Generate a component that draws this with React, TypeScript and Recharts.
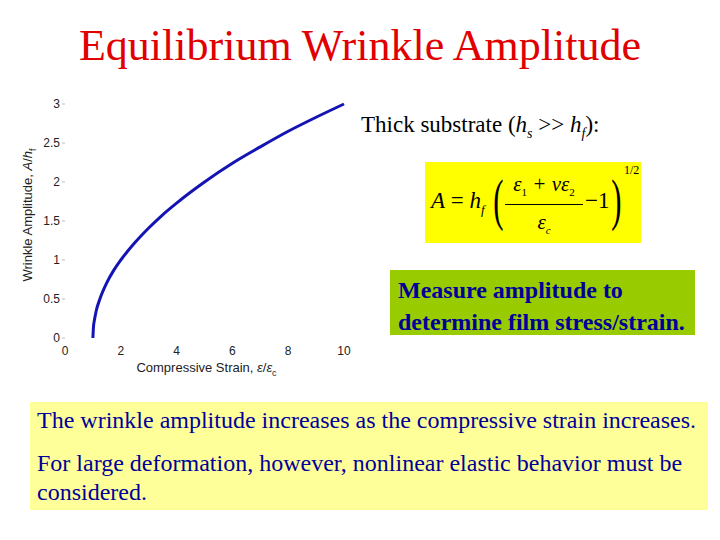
import React from 'react';
import { LineChart, Line, XAxis, YAxis, Label } from 'recharts';

// strain ratio eps/eps_c and amplitude A/h_f
const strainRatio = [1, 1.02, 1.06, 1.12, 1.25, 1.5, 1.75, 2, 2.5, 3, 3.5, 4, 5, 6, 7, 8, 9, 10];
const amplitude = [0, 0.14, 0.24, 0.35, 0.5, 0.71, 0.87, 1, 1.22, 1.41, 1.58, 1.73, 2, 2.24, 2.45, 2.65, 2.83, 3];
const xTicks = [0, 2, 4, 6, 8, 10];
const yTicks = [0, 0.5, 1, 1.5, 2, 2.5, 3];

const data = strainRatio.map((x, i) => ({ x, a: amplitude[i] }));

const serif = '"Liberation Serif", "Times New Roman", serif';
const sans = '"Liberation Sans", Arial, sans-serif';
const NAVY = '#000099';

const XLabel = (props: any) => {
    const { viewBox } = props;
    const cx = viewBox.x + viewBox.width / 2 + 2;
    return (
        <text x={cx} y={viewBox.y + 34} textAnchor="middle" fontFamily={sans} fontSize={13} fill="#222">
            Compressive Strain, <tspan fontStyle="italic">ε</tspan>/<tspan fontStyle="italic">ε</tspan>
            <tspan fontSize={9} dy={4}>c</tspan>
        </text>
    );
};

const YLabel = () => (
    <text
        x={0}
        y={0}
        transform="translate(32, 125) rotate(-90)"
        textAnchor="middle"
        fontFamily={sans}
        fontSize={13}
        fill="#222"
    >
        Wrinkle Amplitude, <tspan fontStyle="italic">A</tspan>/<tspan fontStyle="italic">h</tspan>
        <tspan fontSize={9} dy={4}>f</tspan>
    </text>
);

const App: React.FC = () => {
    return (
        <div style={{ position: 'absolute', left: 0, top: 0, width: 720, height: 540, background: '#fff', fontFamily: serif, overflow: 'hidden' }}>
            <div style={{ position: 'absolute', top: 18, width: 720, textAlign: 'center', color: '#e00000', fontSize: 44, lineHeight: '56px', whiteSpace: 'nowrap' }}>
                Equilibrium Wrinkle Amplitude
            </div>

            <div style={{ position: 'absolute', left: 0, top: 90 }}>
                <LineChart width={360} height={290} data={data} margin={{ top: 14, right: 16, left: 0, bottom: 0 }}>
                    <XAxis
                        type="number"
                        dataKey="x"
                        domain={[0, 10]}
                        ticks={xTicks}
                        axisLine={false}
                        tickLine={false}
                        height={42}
                        tick={{ fontFamily: sans, fontSize: 12, fill: '#222' }}
                        tickMargin={2}
                    >
                        <Label content={<XLabel />} />
                    </XAxis>
                    <YAxis
                        type="number"
                        dataKey="a"
                        domain={[0, 3]}
                        ticks={yTicks}
                        axisLine={false}
                        tickLine={{ stroke: '#bbb' }}
                        tickSize={3}
                        width={65}
                        tick={{ fontFamily: sans, fontSize: 12, fill: '#222' }}
                        tickMargin={2}
                    >
                        <Label content={<YLabel />} />
                    </YAxis>
                    <Line
                        type="monotone"
                        dataKey="a"
                        stroke="#1414b4"
                        strokeWidth={3}
                        dot={false}
                        isAnimationActive={false}
                    />
                </LineChart>
            </div>

            <div style={{ position: 'absolute', left: 361, top: 112, fontSize: 23, color: '#000', whiteSpace: 'nowrap' }}>
                Thick substrate (<i>h</i><sub style={{ fontSize: 14 }}><i>s</i></sub> &gt;&gt; <i>h</i><sub style={{ fontSize: 14 }}><i>f</i></sub>):
            </div>

            <div style={{ position: 'absolute', left: 425, top: 162, width: 216, height: 81, background: '#ffff00' }}>
                <div style={{ position: 'absolute', left: 6, top: 26, fontSize: 23, whiteSpace: 'nowrap' }}>
                    <i>A</i> = <i>h</i><sub style={{ fontSize: 13 }}><i>f</i></sub>
                </div>
                <div style={{ position: 'absolute', left: 64, top: 6, fontSize: 56, transform: 'scaleX(0.55)', lineHeight: '64px' }}>(</div>
                <div style={{ position: 'absolute', left: 80, top: 10, width: 78, textAlign: 'center', fontSize: 21, fontStyle: 'italic', whiteSpace: 'nowrap' }}>
                    ε<sub style={{ fontSize: 11, fontStyle: 'normal' }}>1</sub> + νε<sub style={{ fontSize: 11, fontStyle: 'normal' }}>2</sub>
                </div>
                <div style={{ position: 'absolute', left: 80, top: 42, width: 78, height: 1, background: '#000' }} />
                <div style={{ position: 'absolute', left: 80, top: 48, width: 78, textAlign: 'center', fontSize: 21, fontStyle: 'italic' }}>
                    ε<sub style={{ fontSize: 11 }}>c</sub>
                </div>
                <div style={{ position: 'absolute', left: 160, top: 26, fontSize: 23 }}>−1</div>
                <div style={{ position: 'absolute', left: 182, top: 6, fontSize: 56, transform: 'scaleX(0.55)', lineHeight: '64px' }}>)</div>
                <div style={{ position: 'absolute', left: 199, top: 1, fontSize: 12 }}>1/2</div>
            </div>

            <div style={{ position: 'absolute', left: 390, top: 270, width: 305, height: 65, background: '#99cc00' }}>
                <div style={{ position: 'absolute', left: 8, top: 4, fontSize: 24, fontWeight: 'bold', color: NAVY, lineHeight: '32px', whiteSpace: 'nowrap' }}>
                    Measure amplitude to<br />determine film stress/strain.
                </div>
            </div>

            <div style={{ position: 'absolute', left: 30, top: 402, width: 678, height: 108, background: '#ffff99' }}>
                <div style={{ position: 'absolute', left: 7, top: 4, fontSize: 24, lineHeight: '29px', color: NAVY, whiteSpace: 'nowrap' }}>
                    The wrinkle amplitude increases as the compressive strain increases.
                </div>
                <div style={{ position: 'absolute', left: 7, top: 47, fontSize: 24, color: NAVY, lineHeight: '29px', whiteSpace: 'nowrap' }}>
                    For large deformation, however, nonlinear elastic behavior must be<br />considered.
                </div>
            </div>
        </div>
    );
};

export default App;
